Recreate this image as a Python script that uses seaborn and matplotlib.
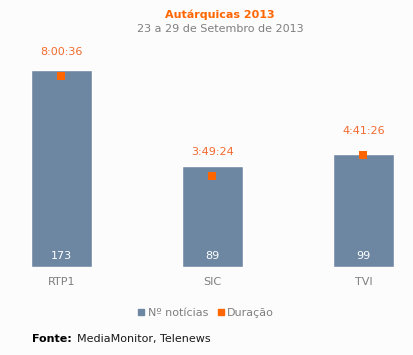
import pandas as pd
import matplotlib
matplotlib.use('Agg')
import matplotlib.pyplot as plt
from matplotlib.lines import Line2D
import seaborn as sns

# Chart data
canais = ['RTP1', 'SIC', 'TVI']
n_noticias = [173, 89, 99]
duracao = ['8:00:36', '3:49:24', '4:41:26']

bar_color = '#6d87a3'
orange = '#ff6600'
label_orange = '#f26a2e'
grey = '#7f7f7f'
bg = '#fcfcfc'


def to_seconds(t):
    h, m, s = [int(p) for p in t.split(':')]
    return h * 3600 + m * 60 + s


df = pd.DataFrame({'Canal': canais, 'Noticias': n_noticias,
                   'Segundos': [to_seconds(t) for t in duracao], 'Duracao': duracao})

sns.set_theme(style='white')
plt.rcParams['font.family'] = ['DejaVu Sans']

W, H = 414, 355
fig = plt.figure(figsize=(W / 100, H / 100), dpi=100, facecolor=bg)

# axes placement in pixels: left 10, right 404, bottom y=267, top y=50
ax = fig.add_axes([10 / W, (H - 267) / H, 394 / W, 217 / H])
ax.set_facecolor('none')

sns.barplot(data=df, x='Canal', y='Noticias', color=bar_color, width=0.404,
            saturation=1, ax=ax)
ax.set_xlim((10 - 61.5) / 151, (404 - 61.5) / 151)
ax.set_ylim(0, 217 / (197 / 173))

ax2 = ax.twinx()
sns.scatterplot(data=df, x='Canal', y='Segundos', color=orange, marker='s', s=30,
                linewidth=0, ax=ax2, zorder=5)
ax2.set_ylim(0, 217 / (100 / (28836 - 13764)))

# labels
for i, row in df.iterrows():
    ax.text(i, 11 / (197 / 173), str(row['Noticias']), ha='center', va='center',
            color='white', fontsize=8)
    ax2.annotate(row['Duracao'], (i, row['Segundos']), xytext=(0, 17), textcoords='offset points',
                 ha='center', va='center', color=label_orange, fontsize=8)

for a in (ax, ax2):
    for sp in a.spines.values():
        sp.set_visible(False)
    a.set_yticks([])
    a.set_ylabel('')
    a.set_xlabel('')
ax.tick_params(axis='x', length=0, pad=7, labelsize=8, labelcolor=grey)

# title
fig.text(220 / W, 1 - 15 / H, 'Autárquicas 2013', ha='center', va='center',
         color=orange, fontsize=8, fontweight='bold')
fig.text(220 / W, 1 - 29 / H, '23 a 29 de Setembro de 2013', ha='center', va='center',
         color=grey, fontsize=8)

# legend
handles = [Line2D([], [], marker='s', color=bar_color, linestyle='none', markersize=4.5),
           Line2D([], [], marker='s', color=orange, linestyle='none', markersize=4.5)]
fig.legend(handles, ['Nº notícias', 'Duração'], loc='center', bbox_to_anchor=(205 / W, 1 - 313 / H),
           ncol=2, frameon=False, fontsize=8, labelcolor=grey, handletextpad=0.1,
           columnspacing=0.6, handlelength=1.0)

# source
fig.text(32 / W, 1 - 339 / H, 'Fonte:', ha='left', va='center', color='black',
         fontsize=8, fontweight='bold')
fig.text(77 / W, 1 - 339 / H, 'MediaMonitor, Telenews', ha='left', va='center',
         color='#1a1a1a', fontsize=8)

fig.savefig('out.png', dpi=100, facecolor=bg)
